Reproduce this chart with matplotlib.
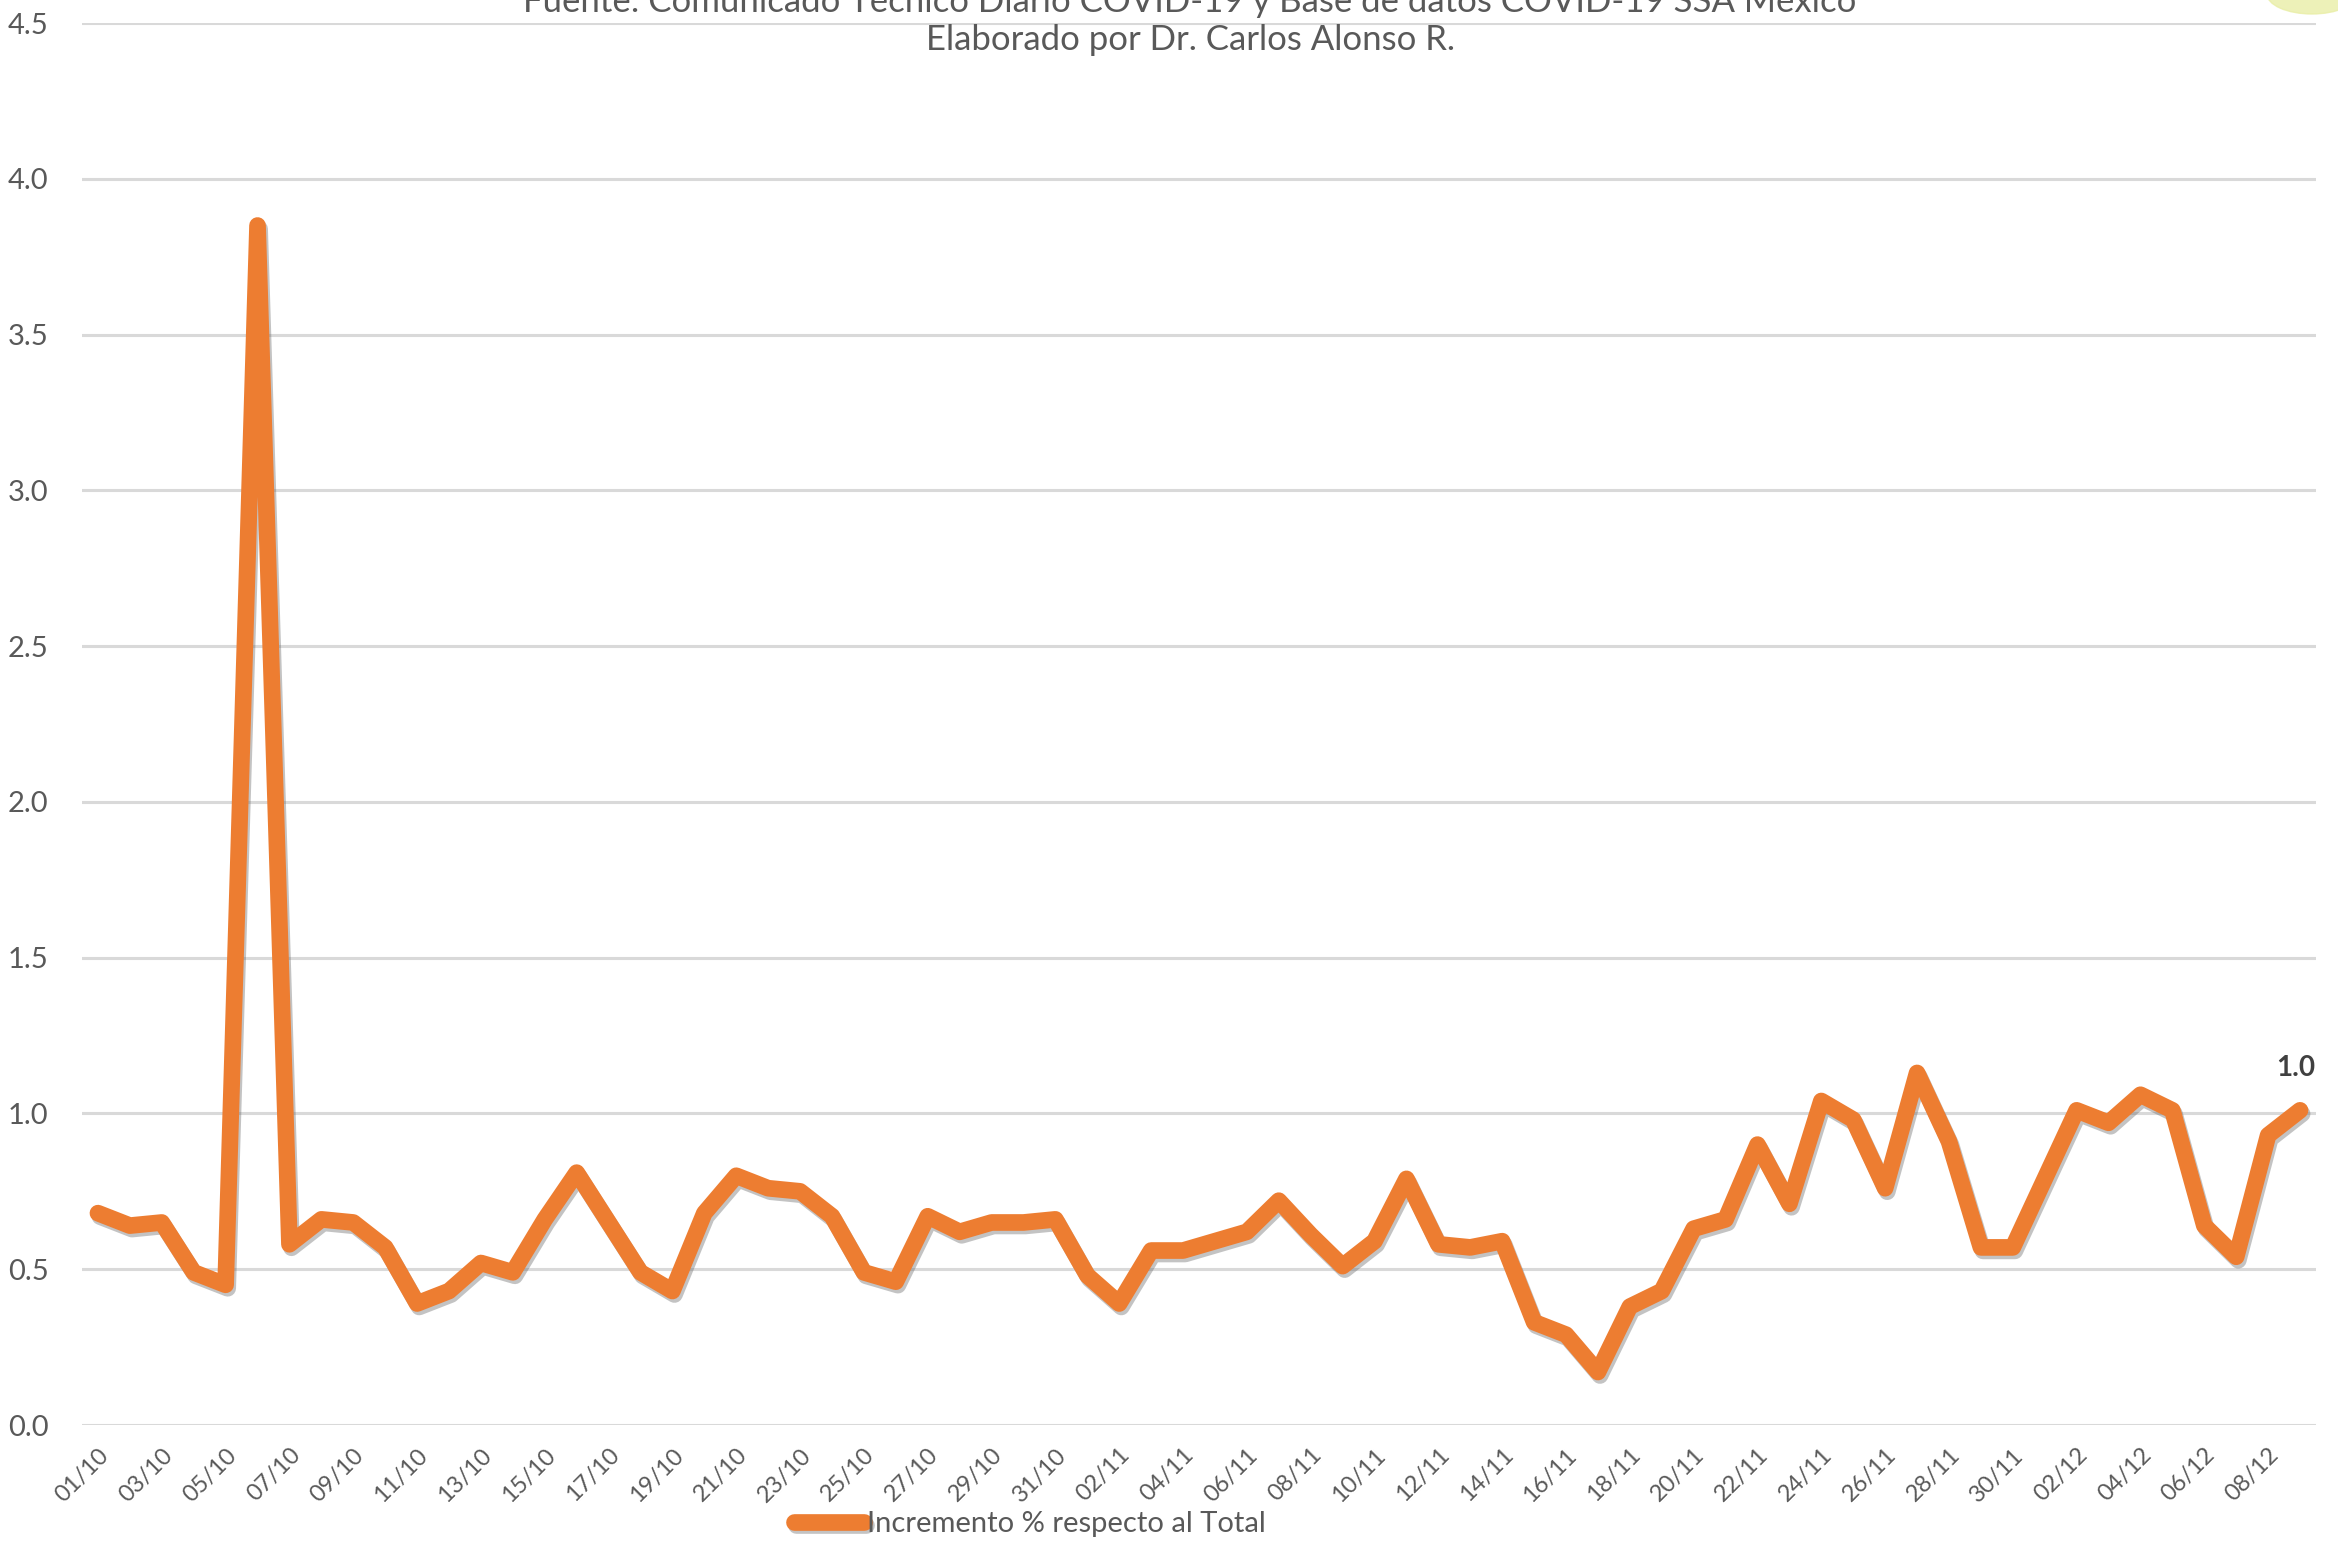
import matplotlib
matplotlib.use('Agg')
import matplotlib.pyplot as plt
import matplotlib.patheffects as pe
from matplotlib.patches import Ellipse
import numpy as np

# Dates (dd/mm), 01/10 to 09/12
dias = ['%02d/10' % d for d in range(1, 32)] + ['%02d/11' % d for d in range(1, 31)] + ['%02d/12' % d for d in range(1, 10)]

# Incremento % respecto al total
incremento = [0.68, 0.64, 0.65, 0.49, 0.45, 3.85, 0.58, 0.66, 0.65, 0.57,
              0.39, 0.43, 0.52, 0.49, 0.66, 0.81, 0.65, 0.49, 0.43, 0.68,
              0.80, 0.76, 0.75, 0.67, 0.49, 0.46, 0.67, 0.62, 0.65, 0.65,
              0.66, 0.48, 0.39, 0.56, 0.56, 0.59, 0.62, 0.72, 0.61, 0.51,
              0.59, 0.79, 0.58, 0.57, 0.59, 0.33, 0.29, 0.17, 0.38, 0.43,
              0.63, 0.66, 0.90, 0.71, 1.04, 0.98, 0.76, 1.13, 0.91, 0.57,
              0.57, 0.79, 1.01, 0.97, 1.06, 1.01, 0.64, 0.54, 0.93, 1.01]

etiqueta_final = '1.0'
y_ticks = [0.0, 0.5, 1.0, 1.5, 2.0, 2.5, 3.0, 3.5, 4.0, 4.5]

naranja = '#ED7D31'
gris_texto = '#595959'
gris_grid = '#D9D9D9'

fig = plt.figure(figsize=(23.38, 15.42), dpi=100)
ax = fig.add_axes([82 / 2338, 1 - 1425 / 1542, (2316 - 82) / 2338, (1425 - 23) / 1542])

x = np.arange(len(dias))
ax.plot(x, incremento, color=naranja, lw=12, solid_joinstyle='round', solid_capstyle='round',
        label='Incremento % respecto al Total', zorder=3,
        path_effects=[pe.SimpleLineShadow(offset=(1.5, -2.5), shadow_color='#6a6a6a', alpha=0.4),
                      pe.Normal()])

ax.set_xlim(-0.5, len(dias) - 0.5)
ax.set_ylim(0, 4.5)
ax.set_yticks(y_ticks)
ax.set_yticklabels(['%.1f' % v for v in y_ticks])
ax.yaxis.grid(True, color=gris_grid, lw=2.2)
ax.set_axisbelow(True)
for s in ax.spines.values():
    s.set_visible(False)
ax.tick_params(axis='y', length=0, pad=24, labelsize=21, labelcolor=gris_texto)

ax.set_xticks(x[::2])
ax.set_xticklabels(dias[::2], rotation=45, ha='right', va='top', rotation_mode='anchor')
ax.tick_params(axis='x', length=0, pad=14, labelsize=17, labelcolor=gris_texto)
for lbl in ax.get_xticklabels() + ax.get_yticklabels():
    lbl.set_fontfamily('Lato')

# label on last point
ax.annotate(etiqueta_final, (x[-1], incremento[-1]), xytext=(-3, 21), textcoords='offset points',
            ha='center', va='bottom', fontsize=20, fontweight='bold', color='#404040', family='Lato')

# titles (first line is cut off at the top)
fig.text(1190 / 2338, 1 - 2 / 1542, 'Fuente: Comunicado Técnico Diario COVID-19 y Base de datos COVID-19 SSA México',
         ha='center', va='center', fontsize=25, color=gris_texto, family='Lato')
fig.text(1190 / 2338, 1 - 40 / 1542, 'Elaborado por Dr. Carlos Alonso R.',
         ha='center', va='center', fontsize=25, color=gris_texto, family='Lato')

# bit of logo at the top right corner
fig.patches.append(Ellipse((2312 / 2338, 1 + 6 / 1542), 90 / 2338, 40 / 1542, transform=fig.transFigure,
                           color='#E9EEA6', alpha=0.8))

leg = fig.legend(loc='center', bbox_to_anchor=(1030 / 2338, 1 - 1524 / 1542), frameon=False,
                 handlelength=2.4, handletextpad=0.1,
                 prop={'family': 'Lato', 'size': 21})
for t in leg.get_texts():
    t.set_color(gris_texto)

fig.savefig('out.png', dpi=100, facecolor='white')
